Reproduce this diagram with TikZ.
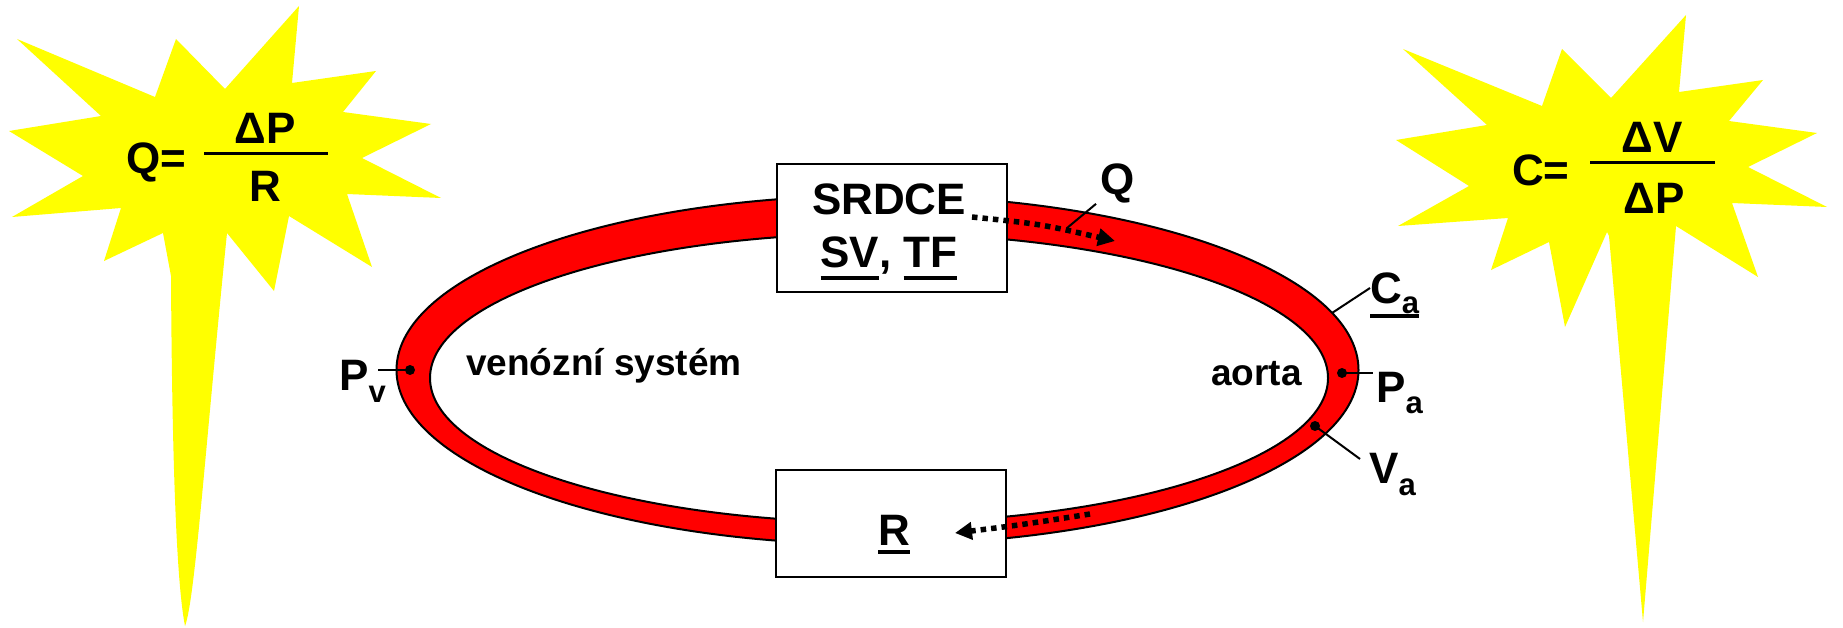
\documentclass[tikz,border=0pt]{standalone}
\usepackage{fontspec}
\setmainfont{Liberation Sans}
\usetikzlibrary{arrows.meta}
\definecolor{starY}{RGB}{255,255,0}
\definecolor{ringR}{RGB}{255,0,0}
\newcommand{\myULine}[2]{\setbox0\hbox{#2}\rlap{\rule[-#1pt]{\wd0}{4pt}}\box0}
\newcommand{\bigf}{\fontsize{44}{48}\selectfont\bfseries}
\newcommand{\midf}{\fontsize{37}{40}\selectfont\bfseries}
\newcommand{\subf}{\fontsize{31}{34}\selectfont\bfseries}
\tikzset{
  lbl/.style={inner sep=0pt, font=\bigf, anchor=base},
  boxnode/.style={draw=black, line width=2pt, fill=white, inner sep=0pt},
  leader/.style={line width=2pt},
  flow/.style={line width=5.5pt, dash pattern=on 5.5pt off 5pt, -{Triangle[length=17pt,width=17pt]}},
  pin/.style={circle, fill=black, inner sep=0pt, minimum size=10pt},
  ringline/.style={line width=2pt},
  fracbar/.style={line width=3pt},
}
\begin{document}
\begin{tikzpicture}[x=1pt,y=-1pt]
\useasboundingbox (0,0) rectangle (1843,628);
% stars
\fill[starY] (17,39) -- (155,97) -- (176,39) -- (225,89) -- (299,6) -- (292,83) -- (376,71) -- (343,112) -- (431,124) -- (362,158) -- (441,198) -- (347,194) -- (372,267) -- (289,216) -- (274,291) -- (227,233) .. controls (205,450) and (195,600) .. (185,626) .. controls (176,580) and (172,450) .. (171,276) -- (163,233) -- (104,261) -- (121,208) -- (12,217) -- (83,176) -- (9,131) -- (101,116) -- cycle;
\fill[starY] (1403,49) -- (1542,106) -- (1562,49) -- (1611,98) -- (1686,15) -- (1679,92) -- (1763,80) -- (1729,121) -- (1817,133) -- (1748,167) -- (1827,207) -- (1732,203) -- (1758,277) -- (1676,226) -- (1643,622) -- (1609,236) -- (1607,232) -- (1565,327) -- (1549,242) -- (1491,270) -- (1508,218) -- (1398,226) -- (1469,186) -- (1396,140) -- (1487,125) -- cycle;
% ring
\fill[ringR, even odd rule] (877.5,370) ellipse [x radius=481pt, y radius=174.5pt] (879,378) ellipse [x radius=449pt, y radius=144.5pt];
\draw[ringline] (877.5,370) ellipse [x radius=481pt, y radius=174.5pt];
\draw[ringline] (879,378) ellipse [x radius=449pt, y radius=144.5pt];
% boxes
\node[boxnode, minimum width=230pt, minimum height=128pt] (heart) at (892,228) {};
\node[boxnode, minimum width=230pt, minimum height=107pt] (resist) at (891,523.5) {};
\node[lbl] (srdce) at (889,215) {SRDCE};
\node[lbl] (svtf) at (889,268) {\myULine{12}{SV}, \myULine{12}{TF}};
\node[lbl] (rtxt) at (894,545) {\myULine{9}{R}};
% inner texts
\node[lbl, font=\midf, anchor=base west] (ven) at (466,375) {venózní systém};
\node[lbl, font=\midf, anchor=base west] (aorta) at (1211,385) {aorta};
% flows
\coordinate (qs) at (972,217);
\coordinate (qe) at (1115,241);
\draw[flow] (qs) .. controls (1040,224) .. (qe);
\coordinate (rs) at (1090,514);
\coordinate (re) at (955,533);
\draw[flow] (rs) .. controls (1020,525) .. (re);
% Q label
\node[lbl, anchor=base west] (qlab) at (1100,195) {Q};
\coordinate (qpt) at (1067,228);
\draw[leader] (qlab.south west) ++(-4,0) coordinate (qtop) -- (qpt);
% Pv
\node[pin] (pv) at (410,370) {};
\coordinate (pvend) at (378,370);
\draw[leader] (pv.center) -- (pvend);
\node[lbl, anchor=base west] (pvlab) at (339,390) {P\raisebox{-12pt}{\subf v}};
% Pa
\node[pin] (pa) at (1342,373) {};
\coordinate (paend) at (1373,373);
\draw[leader] (pa.center) -- (paend);
\node[lbl, anchor=base west] (palab) at (1376,402) {P\raisebox{-11pt}{\subf a}};
% Ca
\coordinate (cain) at (1332,313);
\coordinate (caout) at (1370,288);
\draw[leader] (caout) -- (cain);
\node[lbl, anchor=base west] (calab) at (1370,303) {\myULine{15}{C\raisebox{-10pt}{\subf a}}};
% Va
\node[pin] (va) at (1315,426) {};
\coordinate (vaend) at (1360,459);
\draw[leader] (va.center) -- (vaend);
\node[lbl, anchor=base west] (valab) at (1369,483) {V\raisebox{-12pt}{\subf a}};
% left formula
\node[lbl, anchor=base west] (qeq) at (126,174) {Q=};
\coordinate (lbarL) at (204,154);
\coordinate (lbarR) at (328,154);
\draw[fracbar] (lbarL) -- (lbarR);
\node[lbl] (ldp) at (265,144) {ΔP};
\node[lbl] (lr) at (265,202) {R};
% right formula
\node[lbl, anchor=base west] (ceq) at (1512,186) {C=};
\coordinate (rbarL) at (1590,163);
\coordinate (rbarR) at (1715,163);
\draw[fracbar] (rbarL) -- (rbarR);
\node[lbl] (rdv) at (1652,153) {ΔV};
\node[lbl] (rdp) at (1654,214) {ΔP};
\end{tikzpicture}
\end{document}
